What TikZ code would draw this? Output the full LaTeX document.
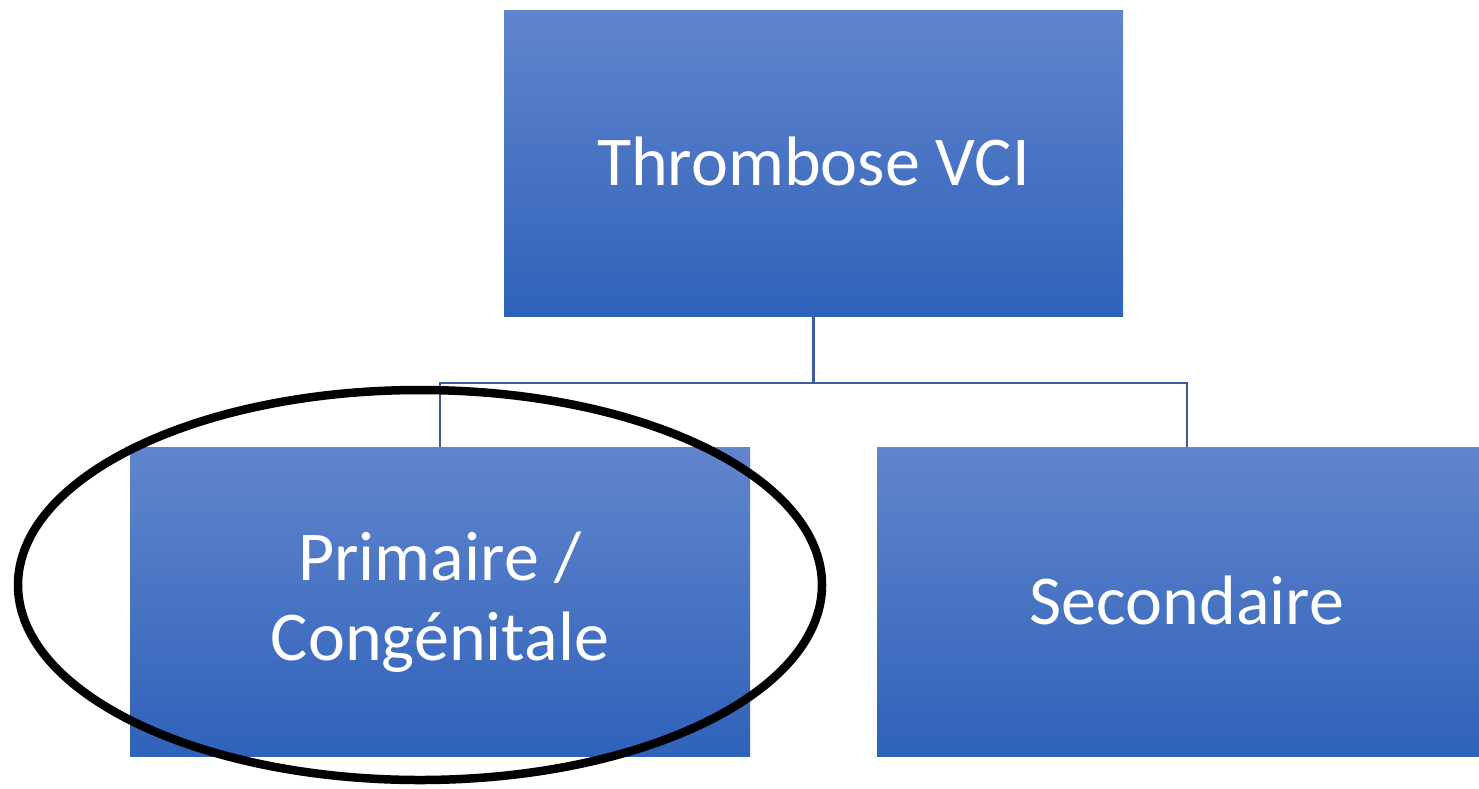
\documentclass[tikz,border=0pt]{standalone}
\usepackage{fontspec}
\setmainfont{Carlito}
\usetikzlibrary{shapes.geometric}
\definecolor{boxtop}{RGB}{97,133,204}
\definecolor{boxbot}{RGB}{47,98,186}
\definecolor{linkblue}{RGB}{60,92,160}
\begin{document}
\begin{tikzpicture}[x=1pt,y=-1pt,
  box/.style={rectangle, inner sep=0pt, top color=boxtop, bottom color=boxbot,
    text=white, font=\fontsize{70}{80}\selectfont, align=center,
    minimum width=620pt, minimum height=309pt},
  link/.style={draw=linkblue, line width=2.5pt},
  ring/.style={draw=black, ellipse, line width=8.5pt, inner sep=0pt}]
\useasboundingbox (0,0) rectangle (1479,788);
\clip (0,0) rectangle (1479,788);
% hierarchy boxes
\node[box, minimum width=619pt, minimum height=306pt] (root) at (813.5,163) {\raisebox{4pt}{Thrombose VCI}};
\node[box] (prim) at (440,602) {Primaire /\\Congénitale\rule[-6pt]{0pt}{1pt}};
\node[box] (sec) at (1187,602) {\raisebox{3pt}{Secondaire}};
% elbow connectors
\coordinate (bus) at (814,383);
\draw[link] (root.south) -- (root.south |- bus);
\draw[link] (prim.north) -- (prim.north |- bus) -- (sec.north |- bus) -- (sec.north);
% highlight ring
\node[ring, minimum width=804pt, minimum height=390pt] (mark) at (420,585) {};
\end{tikzpicture}
\end{document}
